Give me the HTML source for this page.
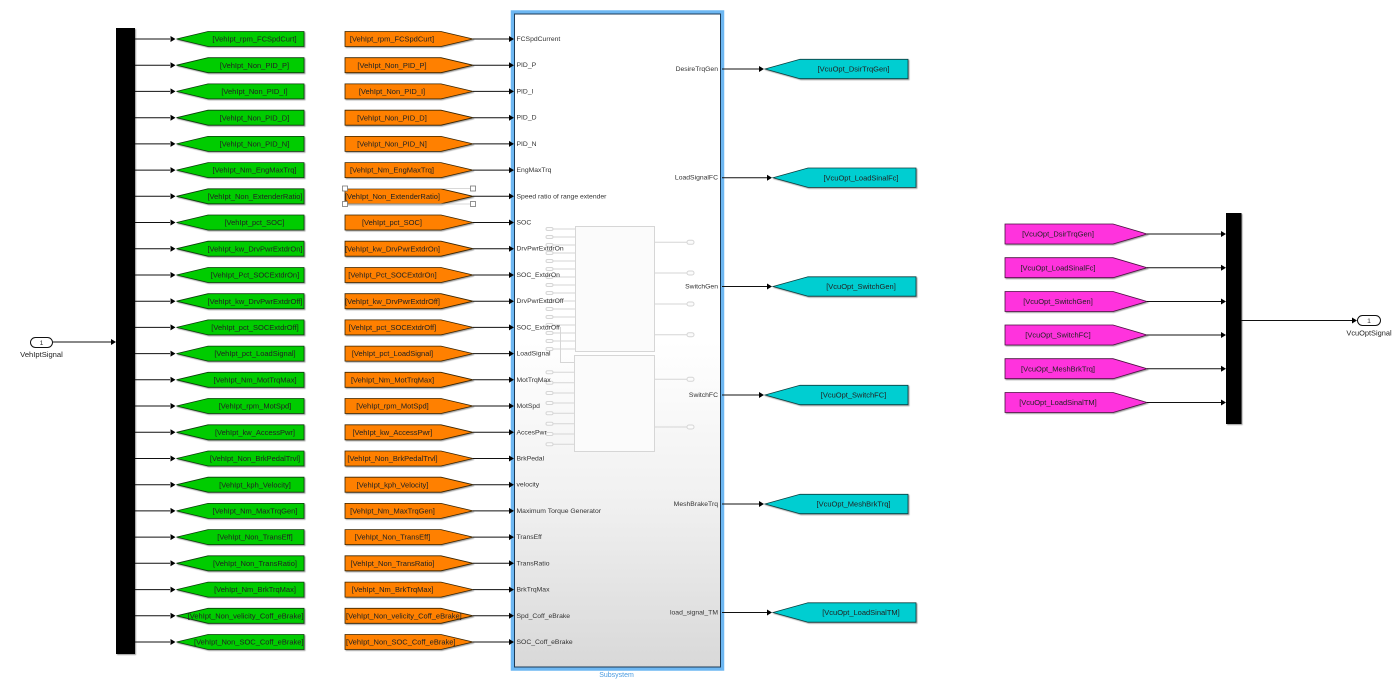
<!DOCTYPE html>
<html><head><meta charset="utf-8"><style>
html,body{margin:0;padding:0;background:#fff;width:1396px;height:684px;overflow:hidden}
svg{display:block;filter:blur(.3px)}
text{font-family:"Liberation Sans",sans-serif;fill:#222}
.b{font-size:7.500px}
.p{font-size:6.800px;fill:#333}
.m{text-anchor:middle}
.e{text-anchor:end}
.sh{filter:drop-shadow(1px 1px .6px rgba(0,0,0,.4))}
.f{stroke:#d6d6d6;stroke-width:1;fill:none}
.o{stroke:#d6d6d6;stroke-width:1;fill:#fbfbfb}
</style></head><body>
<svg width="1396" height="684" viewBox="0 0 1396 684" xmlns="http://www.w3.org/2000/svg">
<defs>
<linearGradient id="bg" x1="0" y1="0" x2="0" y2="1"><stop offset="0" stop-color="#fff"/><stop offset=".5" stop-color="#fff"/><stop offset=".75" stop-color="#f0f0f0"/><stop offset="1" stop-color="#d8d8d8"/></linearGradient>
<g id="row">
<path d="M135 0H170M473 0H510" stroke="#111" stroke-width="1"/>
<path d="M170.500-3L175.500 0L170.500 3ZM509 -3L514 0L509 3Z" fill="#000"/>
<polygon class="sh" points="176.500,0 208,-7.500 304,-7.500 304,7.500 208,7.500" fill="#0c0" stroke="#0d3d0d" stroke-width=".8"/>
<polygon class="sh" points="345,-7.500 441,-7.500 473,0 441,7.500 345,7.500" fill="#ff8000" stroke="#3a2500" stroke-width=".8"/>
</g>
<g id="tl"><polygon class="sh" points="0,0 35,-9.700 143,-9.700 143,9.700 35,9.700" fill="#00ced1" stroke="#0b3f40" stroke-width=".8"/></g>
<g id="pk"><polygon class="sh" points="1005,-10 1113,-10 1147,0 1113,10 1005,10" fill="#ff33dd" stroke="#4a1040" stroke-width=".8"/>
<path d="M1147 0H1222" stroke="#111"/><path d="M1221 -3L1226 0L1221 3Z"/></g>
<g id="ip"><path d="M546 0H575" class="f"/><rect x="546" y="-1.500" width="7" height="3" rx="1.500" class="o"/></g>
<g id="ip2"><path d="M546 0H574" class="f"/><rect x="546" y="-1.500" width="7" height="3" rx="1.500" class="o"/></g>
<g id="op"><path d="M654 0H687" class="f"/><rect x="687" y="-2" width="7" height="4" rx="2" class="o"/></g>
</defs>

<!-- Subsystem -->
<rect x="512.500" y="12" width="210" height="657" fill="url(#bg)" stroke="#6db7f2" stroke-width="3.500"/>
<rect x="514.500" y="14" width="206" height="653" fill="none" stroke="#1c3a55" stroke-width="1"/>

<!-- Faded inner blocks -->
<g>
<use href="#ip" y="229"/><use href="#ip" y="237"/><use href="#ip" y="245"/><use href="#ip" y="253"/><use href="#ip" y="261"/><use href="#ip" y="269"/><use href="#ip" y="277"/><use href="#ip" y="285"/><use href="#ip" y="293"/><use href="#ip" y="301"/><use href="#ip" y="309"/><use href="#ip" y="317"/><use href="#ip" y="325"/><use href="#ip" y="333"/><use href="#ip" y="341"/><use href="#ip" y="349"/>
<use href="#ip2" y="372.300"/><use href="#ip2" y="382.700"/><use href="#ip2" y="393"/><use href="#ip2" y="403"/><use href="#ip2" y="413.300"/><use href="#ip2" y="423.700"/><use href="#ip2" y="434"/><use href="#ip2" y="444.300"/>
<use href="#op" y="242.300"/><use href="#op" y="273"/><use href="#op" y="304"/><use href="#op" y="334.700"/><use href="#op" y="379.300"/><use href="#op" y="427"/>
<path d="M560.500 327V362.500H574" class="f"/>
<rect x="575.500" y="226.500" width="79" height="125" class="o"/>
<rect x="574.500" y="355.500" width="80" height="96" class="o"/>
</g>

<!-- Buses -->
<rect class="sh" x="116" y="28" width="19" height="626" fill="#000"/>
<rect class="sh" x="1226" y="213" width="15.500" height="211" fill="#000"/>

<!-- Inport -->
<path d="M53 342H112" stroke="#111"/><path d="M111 339L116 342L111 345Z"/>
<rect x="30.500" y="337.500" width="22" height="10" rx="5" fill="#fff" stroke="#111"/>
<text x="41.500" y="345" class="p m">1</text>
<text x="41.500" y="357" class="m" style="font-size:7.600px">VehIptSignal</text>

<!-- Rows -->
<use href="#row" y="39"/><use href="#row" y="65.200"/><use href="#row" y="91.400"/><use href="#row" y="117.700"/><use href="#row" y="143.900"/><use href="#row" y="170.100"/><use href="#row" y="196.300"/><use href="#row" y="222.500"/><use href="#row" y="248.700"/><use href="#row" y="275"/><use href="#row" y="301.200"/><use href="#row" y="327.400"/><use href="#row" y="353.600"/><use href="#row" y="379.800"/><use href="#row" y="406"/><use href="#row" y="432.300"/><use href="#row" y="458.500"/><use href="#row" y="484.700"/><use href="#row" y="510.900"/><use href="#row" y="537.100"/><use href="#row" y="563.300"/><use href="#row" y="589.600"/><use href="#row" y="615.800"/><use href="#row" y="642"/>

<!-- Green labels -->
<g class="b">
<text class="m" x="254.500" y="41.600">[VehIpt_rpm_FCSpdCurt]</text>
<text class="m" x="254.500" y="67.800">[VehIpt_Non_PID_P]</text>
<text class="m" x="254.500" y="94">[VehIpt_Non_PID_I]</text>
<text class="m" x="254.500" y="120.300">[VehIpt_Non_PID_D]</text>
<text class="m" x="254.500" y="146.500">[VehIpt_Non_PID_N]</text>
<text class="m" x="254.500" y="172.700">[VehIpt_Nm_EngMaxTrq]</text>
<text class="m" x="255" y="198.900">[VehIpt_Non_ExtenderRatio]</text>
<text class="m" x="254.500" y="225.100">[VehIpt_pct_SOC]</text>
<text class="m" x="255" y="251.300">[VehIpt_kw_DrvPwrExtdrOn]</text>
<text class="m" x="255" y="277.600">[VehIpt_Pct_SOCExtdrOn]</text>
<text class="m" x="255" y="303.800">[VehIpt_kw_DrvPwrExtdrOff]</text>
<text class="m" x="255" y="330">[VehIpt_pct_SOCExtdrOff]</text>
<text class="m" x="255" y="356.200">[VehIpt_pct_LoadSignal]</text>
<text class="m" x="255" y="382.400">[VehIpt_Nm_MotTrqMax]</text>
<text class="m" x="255" y="408.600">[VehIpt_rpm_MotSpd]</text>
<text class="m" x="255" y="434.900">[VehIpt_kw_AccessPwr]</text>
<text class="m" x="255" y="461.100">[VehIpt_Non_BrkPedalTrvl]</text>
<text class="m" x="255" y="487.300">[VehIpt_kph_Velocity]</text>
<text class="m" x="255" y="513.500">[VehIpt_Nm_MaxTrqGen]</text>
<text class="m" x="255" y="539.700">[VehIpt_Non_TransEff]</text>
<text class="m" x="255" y="565.900">[VehIpt_Non_TransRatio]</text>
<text class="m" x="255" y="592.200">[VehIpt_Nm_BrkTrqMax]</text>
<text class="e" x="303.500" y="618.400">[VehIpt_Non_velicity_Coff_eBrake]</text>
<text class="e" x="303.500" y="644.600">[VehIpt_Non_SOC_Coff_eBrake]</text>
</g>

<!-- Orange labels -->
<g class="b">
<text class="m" x="392" y="41.600">[VehIpt_rpm_FCSpdCurt]</text>
<text class="m" x="392" y="67.800">[VehIpt_Non_PID_P]</text>
<text class="m" x="392" y="94">[VehIpt_Non_PID_I]</text>
<text class="m" x="392" y="120.300">[VehIpt_Non_PID_D]</text>
<text class="m" x="392" y="146.500">[VehIpt_Non_PID_N]</text>
<text class="m" x="392" y="172.700">[VehIpt_Nm_EngMaxTrq]</text>
<text class="m" x="392.500" y="198.900">[VehIpt_Non_ExtenderRatio]</text>
<text class="m" x="392" y="225.100">[VehIpt_pct_SOC]</text>
<text class="m" x="392.500" y="251.300">[VehIpt_kw_DrvPwrExtdrOn]</text>
<text class="m" x="392.500" y="277.600">[VehIpt_Pct_SOCExtdrOn]</text>
<text class="m" x="392.500" y="303.800">[VehIpt_kw_DrvPwrExtdrOff]</text>
<text class="m" x="392.500" y="330">[VehIpt_pct_SOCExtdrOff]</text>
<text class="m" x="392.500" y="356.200">[VehIpt_pct_LoadSignal]</text>
<text class="m" x="392.500" y="382.400">[VehIpt_Nm_MotTrqMax]</text>
<text class="m" x="392.500" y="408.600">[VehIpt_rpm_MotSpd]</text>
<text class="m" x="392.500" y="434.900">[VehIpt_kw_AccessPwr]</text>
<text class="m" x="392.500" y="461.100">[VehIpt_Non_BrkPedalTrvl]</text>
<text class="m" x="392.500" y="487.300">[VehIpt_kph_Velocity]</text>
<text class="m" x="392.500" y="513.500">[VehIpt_Nm_MaxTrqGen]</text>
<text class="m" x="392.500" y="539.700">[VehIpt_Non_TransEff]</text>
<text class="m" x="392.500" y="565.900">[VehIpt_Non_TransRatio]</text>
<text class="m" x="392.500" y="592.200">[VehIpt_Nm_BrkTrqMax]</text>
<text x="346" y="618.400">[VehIpt_Non_velicity_Coff_eBrake]</text>
<text x="346" y="644.600">[VehIpt_Non_SOC_Coff_eBrake]</text>
</g>

<!-- Selection handles -->
<g fill="#fff" stroke="#777" stroke-width=".8">
<path d="M345 188.500H473M345 204H473" stroke="#ccc" fill="none"/>
<rect x="342.500" y="186" width="5" height="5"/><rect x="470.500" y="186" width="5" height="5"/><rect x="342.500" y="201.500" width="5" height="5"/><rect x="470.500" y="201.500" width="5" height="5"/>
</g>

<!-- Subsystem input labels -->
<g>
<text class="p" x="516.500" y="41">FCSpdCurrent</text>
<text class="p" x="516.500" y="67.200">PID_P</text>
<text class="p" x="516.500" y="93.400">PID_I</text>
<text class="p" x="516.500" y="119.700">PID_D</text>
<text class="p" x="516.500" y="145.900">PID_N</text>
<text class="p" x="516.500" y="172.100">EngMaxTrq</text>
<text class="p" x="516.500" y="198.300">Speed ratio of range extender</text>
<text class="p" x="516.500" y="224.500">SOC</text>
<text class="p" x="516.500" y="250.700">DrvPwrExtdrOn</text>
<text class="p" x="516.500" y="277">SOC_ExtdrOn</text>
<text class="p" x="516.500" y="303.200">DrvPwrExtdrOff</text>
<text class="p" x="516.500" y="329.400">SOC_ExtdrOff</text>
<text class="p" x="516.500" y="355.600">LoadSignal</text>
<text class="p" x="516.500" y="381.800">MotTrqMax</text>
<text class="p" x="516.500" y="408">MotSpd</text>
<text class="p" x="516.500" y="434.300">AccesPwr</text>
<text class="p" x="516.500" y="460.500">BrkPedal</text>
<text class="p" x="516.500" y="486.700">velocity</text>
<text class="p" x="516.500" y="512.900">Maximum Torque Generator</text>
<text class="p" x="516.500" y="539.100">TransEff</text>
<text class="p" x="516.500" y="565.300">TransRatio</text>
<text class="p" x="516.500" y="591.600">BrkTrqMax</text>
<text class="p" x="516.500" y="617.800">Spd_Coff_eBrake</text>
<text class="p" x="516.500" y="644">SOC_Coff_eBrake</text>
<text class="p e" x="718" y="71">DesireTrqGen</text>
<text class="p e" x="718" y="179.700">LoadSignalFC</text>
<text class="p e" x="718" y="288.500">SwitchGen</text>
<text class="p e" x="718" y="397">SwitchFC</text>
<text class="p e" x="718" y="506">MeshBrakeTrq</text>
<text class="p e" x="718" y="614.500">load_signal_TM</text>
</g>
<text x="616.500" y="677" class="m" style="font-size:7px;fill:#4a9be0">Subsystem</text>

<!-- Output wires and teal goto tags -->
<path d="M722 69H760M722 177.700H768M722 286.500H768M722 395H760M722 504H760M722 612.500H768" stroke="#111"/>
<path d="M759 66L764 69L759 72ZM767 174.700L772 177.700L767 180.700ZM767 283.500L772 286.500L767 289.500ZM759 392L764 395L759 398ZM759 501L764 504L759 507ZM767 609.500L772 612.500L767 615.500Z"/>
<use href="#tl" x="765" y="69"/><use href="#tl" x="773" y="177.700"/><use href="#tl" x="773" y="286.500"/><use href="#tl" x="765" y="395"/><use href="#tl" x="765" y="504"/><use href="#tl" x="773" y="612.500"/>
<g class="b">
<text class="m" x="853.500" y="71.600">[VcuOpt_DsirTrqGen]</text>
<text class="m" x="861" y="180.300">[VcuOpt_LoadSinalFc]</text>
<text class="m" x="861" y="289.100">[VcuOpt_SwitchGen]</text>
<text class="m" x="853.500" y="397.600">[VcuOpt_SwitchFC]</text>
<text class="m" x="853.500" y="506.600">[VcuOpt_MeshBrkTrq]</text>
<text class="m" x="861" y="615.100">[VcuOpt_LoadSinalTM]</text>
</g>

<!-- Pink from tags -->
<use href="#pk" y="234"/><use href="#pk" y="267.700"/><use href="#pk" y="301.500"/><use href="#pk" y="335"/><use href="#pk" y="368.700"/><use href="#pk" y="402.500"/>
<g class="b">
<text class="m" x="1058" y="236.600">[VcuOpt_DsirTrqGen]</text>
<text class="m" x="1058" y="270.300">[VcuOpt_LoadSinalFc]</text>
<text class="m" x="1058" y="304.100">[VcuOpt_SwitchGen]</text>
<text class="m" x="1058" y="337.600">[VcuOpt_SwitchFC]</text>
<text class="m" x="1058" y="371.300">[VcuOpt_MeshBrkTrq]</text>
<text class="m" x="1058" y="405.100">[VcuOpt_LoadSinalTM]</text>
</g>

<!-- Outport -->
<path d="M1241 320.500H1353" stroke="#111"/><path d="M1352 317.500L1357 320.500L1352 323.500Z"/>
<rect x="1357.500" y="315.500" width="23" height="10" rx="5" fill="#fff" stroke="#111"/>
<text x="1369" y="323" class="p m">1</text>
<text x="1369" y="335.500" class="m" style="font-size:7.400px">VcuOptSignal</text>
</svg>
</body></html>
